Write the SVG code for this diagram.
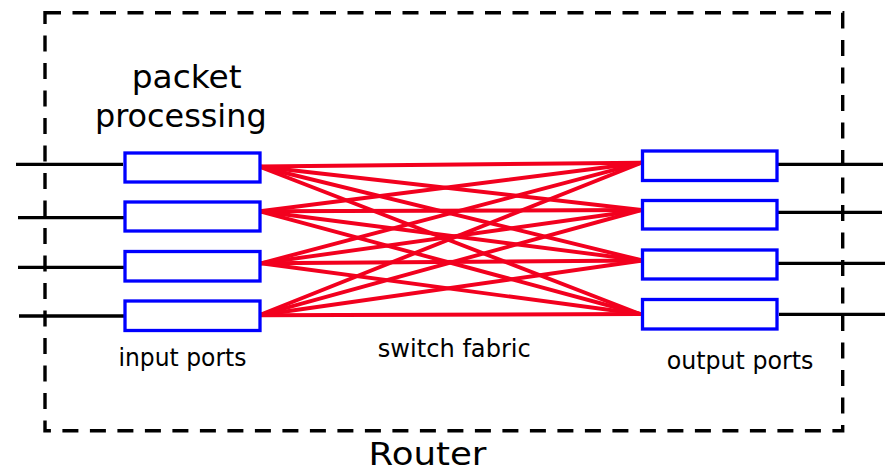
<svg xmlns="http://www.w3.org/2000/svg" width="885" height="474" viewBox="0 0 885 474">
<style>
.frame{fill:none;stroke:#000;stroke-width:3.4;stroke-dasharray:16 11.5}
.port{fill:#fff;stroke:#0000ff;stroke-width:3.3}
.wire{stroke:#000;stroke-width:3.3}
.fab{stroke:#f2001e;stroke-width:3.9;stroke-linecap:round}
text{font-family:"DejaVu Sans","Liberation Sans",sans-serif;fill:#000;text-anchor:middle}
.big{font-size:31.5px}
.lab{font-size:24px}
</style>
<rect class="frame" x="45" y="12.7" width="797.7" height="418"/>
<g id="connectors">
<line class="wire" x1="16" y1="164.3" x2="123" y2="164.3"/>
<line class="wire" x1="18" y1="217.7" x2="124" y2="217.7"/>
<line class="wire" x1="18" y1="267.3" x2="124" y2="267.3"/>
<line class="wire" x1="19" y1="316" x2="124" y2="316"/>
<line class="wire" x1="778" y1="164.3" x2="883" y2="164.3"/>
<line class="wire" x1="776" y1="212.3" x2="882" y2="212.3"/>
<line class="wire" x1="778" y1="263.3" x2="885" y2="263.3"/>
<line class="wire" x1="779" y1="314.3" x2="885" y2="314.3"/>
<g id="fabric">
<line class="fab" x1="259" y1="166.5" x2="641.5" y2="162.7"/>
<line class="fab" x1="259" y1="166.5" x2="641.5" y2="210"/>
<line class="fab" x1="259" y1="166.5" x2="642.5" y2="260.5"/>
<line class="fab" x1="259" y1="166.5" x2="640" y2="314"/>
<line class="fab" x1="260" y1="211.3" x2="641.5" y2="162.7"/>
<line class="fab" x1="260" y1="211.3" x2="641.5" y2="210"/>
<line class="fab" x1="260" y1="211.3" x2="642.5" y2="260.5"/>
<line class="fab" x1="260" y1="211.3" x2="640" y2="314"/>
<line class="fab" x1="261" y1="263.3" x2="641.5" y2="162.7"/>
<line class="fab" x1="261" y1="263.3" x2="641.5" y2="210"/>
<line class="fab" x1="261" y1="263.3" x2="642.5" y2="260.5"/>
<line class="fab" x1="261" y1="263.3" x2="640" y2="314"/>
<line class="fab" x1="259" y1="315.3" x2="641.5" y2="162.7"/>
<line class="fab" x1="259" y1="315.3" x2="641.5" y2="210"/>
<line class="fab" x1="259" y1="315.3" x2="642.5" y2="260.5"/>
<line class="fab" x1="259" y1="315.3" x2="640" y2="314"/>
</g>
</g>
<g id="in1"><rect class="port" x="125" y="153" width="135" height="29"/></g>
<g id="in2"><rect class="port" x="125" y="202" width="135" height="29"/></g>
<g id="in3"><rect class="port" x="125" y="251.5" width="135" height="29.5"/></g>
<g id="in4"><rect class="port" x="125" y="301" width="135" height="29.5"/></g>
<g id="out1"><rect class="port" x="642.5" y="151" width="134.5" height="29.5"/></g>
<g id="out2"><rect class="port" x="642.5" y="200.5" width="134.5" height="28.5"/></g>
<g id="out3"><rect class="port" x="642.5" y="250" width="134.5" height="29"/></g>
<g id="out4"><rect class="port" x="642.5" y="299.5" width="134.5" height="29.5"/></g>
<g id="labels">
<text class="big" x="186.7" y="88.3" textLength="110" lengthAdjust="spacingAndGlyphs">packet</text>
<text class="big" x="180.8" y="126.7" textLength="171.7" lengthAdjust="spacingAndGlyphs">processing</text>
<text class="lab" x="182.5" y="366" textLength="128" lengthAdjust="spacingAndGlyphs">input ports</text>
<text class="lab" x="454.3" y="356.7" textLength="153" lengthAdjust="spacingAndGlyphs">switch fabric</text>
<text class="lab" x="740" y="369.3" textLength="146.7" lengthAdjust="spacingAndGlyphs">output ports</text>
<text class="big" x="427.5" y="465" textLength="118" lengthAdjust="spacingAndGlyphs">Router</text>
</g>
</svg>
